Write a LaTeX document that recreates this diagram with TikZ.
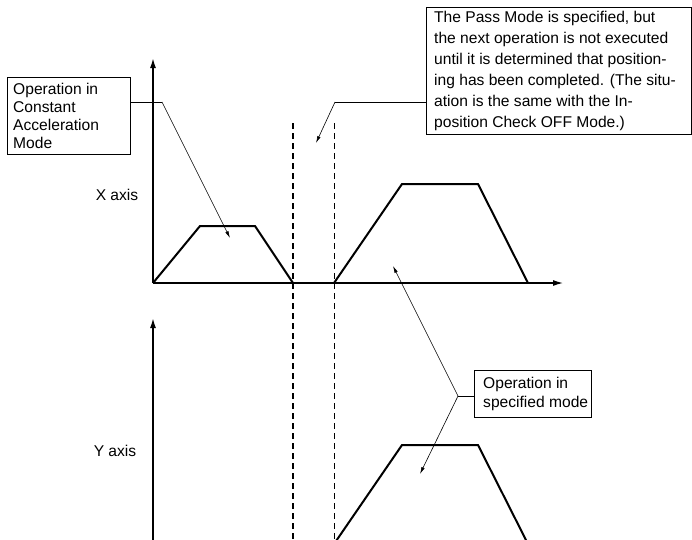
\documentclass[tikz,border=0pt]{standalone}
\usepackage{fontspec}
\setmainfont{Liberation Sans}
\usetikzlibrary{arrows.meta}
\begin{document}
\begin{tikzpicture}[x=1pt,y=-1pt,
  axisline/.style={line width=1.6pt,-{Latex[length=10pt,width=6pt]}},
  haxis/.style={line width=1.2pt,-{Latex[length=10pt,width=6pt]}},
  profile/.style={line width=2pt,line join=miter},
  dashthick/.style={line width=1.4pt,dash pattern=on 6pt off 4pt},
  dashthin/.style={line width=0.8pt,dash pattern=on 6pt off 4pt},
  leader/.style={line width=0.6pt},
  leaderarrow/.style={line width=0.6pt,-{Latex[length=7pt,width=3.5pt]}},
  notebox/.style={draw,line width=1pt,anchor=north west,inner sep=0pt},
  notetext/.style={anchor=west,align=left,inner sep=0pt},
  axislabel/.style={font=\fontsize{15.6}{19}\selectfont}
]
\useasboundingbox (0,0) rectangle (692,539);
\clip (0,0) rectangle (692,539);
\fill[white] (0,0) rectangle (692,539);

% X axis
\coordinate (xo) at (153,283);
\coordinate (xtop) at (153,58);
\coordinate (xright) at (563,283);
\draw[axisline] (xo) -- (xtop);
\draw[haxis] (xo) -- (xright);
\node[axislabel] (xlab) at (117,195) {X axis};

% Y axis
\coordinate (yo) at (153,544);
\coordinate (ytop) at (153,318);
\coordinate (yright) at (563,544);
\draw[axisline] (yo) -- (ytop);
\draw[haxis] (yo) -- (yright);
\node[axislabel] (ylab) at (115,451) {Y axis};

% profiles
\coordinate (p1a) at (153,283);
\coordinate (p1b) at (200,226);
\coordinate (p1c) at (255,226);
\coordinate (p1d) at (293,283);
\draw[profile] (p1a) -- (p1b) -- (p1c) -- (p1d);

\coordinate (p2a) at (334,283);
\coordinate (p2b) at (402,184);
\coordinate (p2c) at (478,184);
\coordinate (p2d) at (528,283);
\draw[profile] (p2a) -- (p2b) -- (p2c) -- (p2d);

\coordinate (p3a) at (334,544);
\coordinate (p3b) at (402,445);
\coordinate (p3c) at (478,445);
\coordinate (p3d) at (528,544);
\draw[profile] (p3a) -- (p3b) -- (p3c) -- (p3d);

% dashed lines
\coordinate (d1t) at (293,123);
\coordinate (d1b) at (293,545);
\coordinate (d2t) at (334,123);
\coordinate (d2b) at (334,545);
\draw[dashthick] (d1t) -- (d1b);
\draw[dashthin] (d2t) -- (d2b);

% box 1
\node[notebox,minimum width=123pt,minimum height=77pt] (b1) at (7,77) {};
\node[notetext,font=\fontsize{15.6}{18}\selectfont] (b1txt) at ([xshift=6pt]b1.west)
  {Operation in\\Constant\\Acceleration\\Mode};
\coordinate (b1k) at (162,102);
\coordinate (b1t) at (230,238);
\draw[leader] (b1.east |- b1k) -- (b1k);
\draw[leaderarrow] (b1k) -- (b1t);

% box 2
\node[notebox,minimum width=265pt,minimum height=127pt] (b2) at (426,7) {};
\node[notetext,font=\fontsize{15.6}{21}\selectfont] (b2txt) at ([xshift=8pt]b2.west)
  {The Pass Mode is specified, but\\the next operation is not executed\\until it is determined that position-\\ing has been completed. (The situ-\\ation is the same with the In-\\position Check OFF Mode.)};
\coordinate (b2k) at (335,102);
\coordinate (b2t) at (316,143);
\draw[leader] (b2.west |- b2k) -- (b2k);
\draw[leaderarrow] (b2k) -- (b2t);

% box 3
\node[notebox,minimum width=117pt,minimum height=47pt] (b3) at (474,370) {};
\node[notetext,font=\fontsize{15.6}{19}\selectfont] (b3txt) at ([xshift=9pt]b3.west)
  {Operation in\\specified mode};
\coordinate (b3k) at (458,396);
\coordinate (b3t1) at (393,266);
\coordinate (b3t2) at (420,474);
\draw[leader] (b3.west |- b3k) -- (b3k);
\draw[leaderarrow] (b3k) -- (b3t1);
\draw[leaderarrow] (b3k) -- (b3t2);
\end{tikzpicture}
\end{document}
